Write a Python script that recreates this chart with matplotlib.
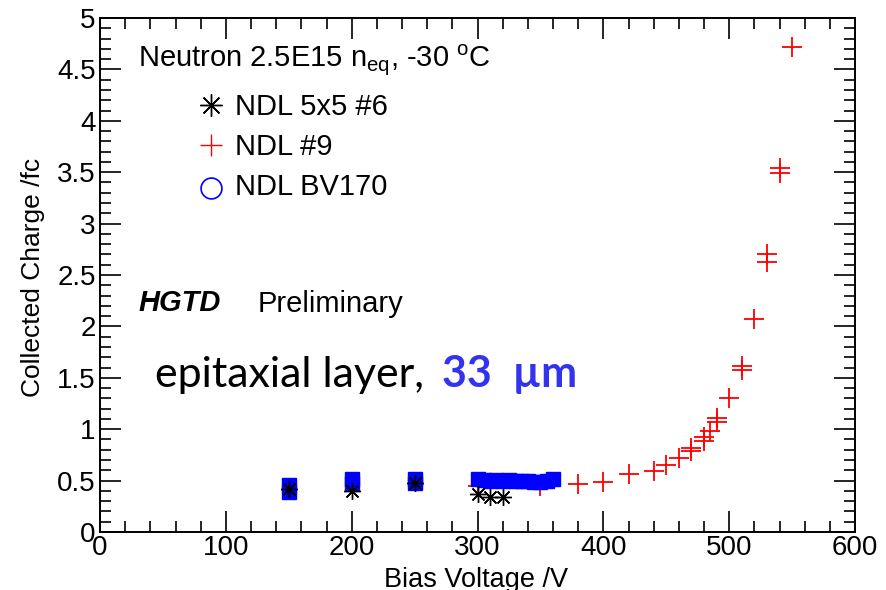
import matplotlib
matplotlib.use("Agg")
import matplotlib.pyplot as plt
from matplotlib.ticker import MultipleLocator

plt.rcParams['font.family'] = ['Liberation Sans', 'DejaVu Sans']
plt.rcParams['mathtext.fontset'] = 'custom'
plt.rcParams['mathtext.rm'] = 'Liberation Sans'

# NDL 5x5 #6 (black stars)
v_ndl6 = [150, 200, 250, 300, 310, 320]
q_ndl6 = [0.42, 0.40, 0.48, 0.37, 0.34, 0.34]

# NDL #9 (red crosses)
v_ndl9 = [300, 350, 380, 400, 420, 440, 450, 460, 470, 470, 480, 480, 485,
          490, 490, 500, 510, 510, 520, 530, 530, 540, 540, 550]
q_ndl9 = [0.45, 0.45, 0.47, 0.49, 0.56, 0.59, 0.65, 0.72, 0.82, 0.79, 0.92, 0.89, 0.98,
          1.11, 1.07, 1.30, 1.61, 1.58, 2.07, 2.70, 2.63, 3.54, 3.49, 4.72]

# NDL BV170 (blue)
v_bv170 = [150, 150, 200, 200, 250, 250, 300, 305, 310, 315, 320, 325, 330,
           335, 340, 345, 350, 355, 360]
q_bv170 = [0.39, 0.46, 0.48, 0.52, 0.48, 0.52, 0.52, 0.51, 0.50, 0.51, 0.50, 0.51, 0.50,
           0.50, 0.50, 0.49, 0.49, 0.50, 0.52]

W, H = 886, 590
fig = plt.figure(figsize=(W / 100, H / 100), dpi=100)
ax = fig.add_axes([100 / W, 1 - 532 / H, 755 / W, 514 / H])

STAR = (8, 2, 0)
ax.plot(v_bv170, q_bv170, linestyle='none', marker='s', markersize=9.5,
        color='#0000ff', zorder=3)
ax.plot(v_ndl9, q_ndl9, linestyle='none', marker='+', markersize=15,
        markeredgewidth=1.3, color='#ff0000', zorder=2)
ax.plot(v_ndl6, q_ndl6, linestyle='none', marker=STAR, markersize=12,
        markeredgewidth=1.0, color='black', zorder=4)

ax.set_xlim(0, 600)
ax.set_ylim(0, 5)
ax.xaxis.set_major_locator(MultipleLocator(100))
ax.xaxis.set_minor_locator(MultipleLocator(20))
ax.yaxis.set_minor_locator(MultipleLocator(0.1))
ax.set_yticks([0, 0.5, 1, 1.5, 2, 2.5, 3, 3.5, 4, 4.5, 5])
ax.set_yticklabels(['0', '0.5', '1', '1.5', '2', '2.5', '3', '3.5', '4', '4.5', '5'])
ax.tick_params(which='both', direction='in', top=True, right=True, width=1.2)
ax.tick_params(which='major', length=15, labelsize=20)
ax.tick_params(axis='x', which='major', pad=2)
ax.tick_params(axis='y', which='major', pad=3)
ax.tick_params(which='minor', length=8)
for s in ax.spines.values():
    s.set_linewidth(1.4)

ax.set_xlabel('Bias Voltage /V', fontsize=19.5)
ax.xaxis.set_label_coords((476 - 100) / 755, -(587 - 532) / 514)
ax.xaxis.label.set_va('baseline')
ax.set_ylabel('Collected Charge /fc', fontsize=19)
ax.yaxis.set_label_coords(-(100 - 33) / 755, (532 - 277) / 514)
ax.yaxis.label.set_va('center')

fig.text(138 / W, 1 - 67 / H, r'Neutron 2.5E15 n$_{\mathrm{eq}}$, -30 $^{\mathrm{o}}$C',
         fontsize=21, va='baseline', ha='left')

# legend
leg_my = [105, 145, 188]
leg_ty = [115, 155, 195]
leg_lbl = ['NDL 5x5 #6', 'NDL #9', 'NDL BV170']
fig.lines.append(plt.Line2D([211 / W], [1 - leg_my[0] / H], transform=fig.transFigure,
                            marker=STAR, markersize=16, markeredgewidth=1.0, color='black'))
fig.lines.append(plt.Line2D([211 / W], [1 - leg_my[1] / H], transform=fig.transFigure,
                            marker='+', markersize=16, markeredgewidth=1.0, color='#ff0000'))
fig.lines.append(plt.Line2D([211 / W], [1 - leg_my[2] / H], transform=fig.transFigure,
                            marker='o', markersize=15, markeredgewidth=1.2,
                            markerfacecolor='none', color='#0000ff'))
for y, t in zip(leg_ty, leg_lbl):
    fig.text(235 / W, 1 - y / H, t, fontsize=21, va='baseline', ha='left')

fig.text(138 / W, 1 - 311 / H, 'HGTD', fontsize=21, fontweight='bold',
         fontstyle='italic', va='baseline', ha='left')
fig.text(258 / W, 1 - 312 / H, 'Preliminary', fontsize=21, va='baseline', ha='left')

t1 = fig.text(155 / W, 1 - 387 / H, 'epitaxial layer,', fontsize=31,
              family=['Lato', 'DejaVu Sans'], va='baseline', ha='left')
fig.canvas.draw()
bb = t1.get_window_extent()
fig.text((bb.x1 + 18) / W, 1 - 387 / H, '33  \u00b5m', fontsize=31, fontweight='bold',
         color='#3333ee', family=['Lato', 'DejaVu Sans'], va='baseline', ha='left')

fig.savefig('out.png', dpi=100)
